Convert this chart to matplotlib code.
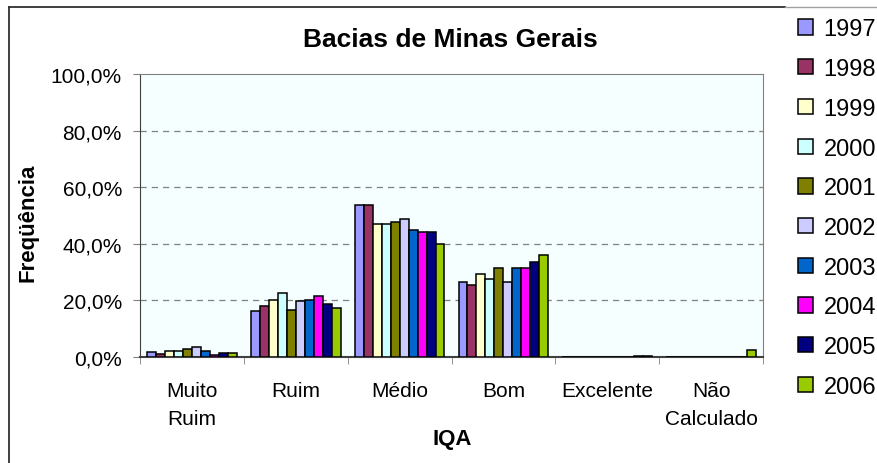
import matplotlib.pyplot as plt
import numpy as np
from matplotlib.lines import Line2D
from matplotlib.patches import Patch

plt.rcParams['font.family'] = ['Liberation Sans', 'DejaVu Sans']

categories = ["Muito\nRuim", "Ruim", "Médio", "Bom", "Excelente", "Não\nCalculado"]
years = ["1997", "1998", "1999", "2000", "2001", "2002", "2003", "2004", "2005", "2006"]
colors = ["#9999FF", "#993366", "#FFFFCC", "#CCFFFF", "#808000",
          "#CCCCFF", "#0066CC", "#FF00FF", "#000080", "#99CC00"]

# frequency (%) per year, one value per category
v1997 = [1.9, 16.1, 53.6, 26.6, 0.0, 0.0]
v1998 = [1.2, 18.1, 53.6, 25.3, 0.0, 0.0]
v1999 = [2.0, 20.2, 47.1, 29.5, 0.0, 0.0]
v2000 = [2.0, 22.5, 47.1, 27.4, 0.0, 0.0]
v2001 = [2.9, 16.7, 47.8, 31.6, 0.0, 0.0]
v2002 = [3.5, 19.7, 48.6, 26.6, 0.0, 0.0]
v2003 = [2.0, 20.2, 45.0, 31.5, 0.0, 0.0]
v2004 = [0.8, 21.7, 44.2, 31.5, 0.0, 0.0]
v2005 = [1.4, 18.8, 44.2, 33.7, 0.3, 0.0]
v2006 = [1.4, 17.4, 40.0, 35.9, 0.3, 2.6]
values = [v1997, v1998, v1999, v2000, v2001, v2002, v2003, v2004, v2005, v2006]

fig = plt.figure(figsize=(8.77, 4.64), dpi=100)
W, H = 877, 464
ax = fig.add_axes([140 / W, (H - 358) / H, 623 / W, 283 / H])
ax.set_facecolor("#F5FFFF")

n = len(years)
w = 0.865 / n
x = np.arange(len(categories))
for j in range(n):
    ax.bar(x + (j - (n - 1) / 2) * w, values[j], width=w, color=colors[j],
           edgecolor="black", linewidth=1.1, zorder=3)

ax.set_xlim(-0.5, len(categories) - 0.5)
ax.set_ylim(0, 100)
ax.set_yticks([0, 20, 40, 60, 80, 100])
ax.set_yticklabels(["0,0%", "20,0%", "40,0%", "60,0%", "80,0%", "100,0%"], fontsize=15)
for g in [20, 40, 60, 80]:
    ax.axhline(g, color="#808080", linestyle=(0, (5, 4)), linewidth=0.9, zorder=1)

ax.set_xticks(x)
ax.set_xticklabels(categories, fontsize=15, linespacing=1.62)
ax.set_xticks(np.arange(-0.5, len(categories), 1), minor=True)
ax.tick_params(axis="x", which="major", length=0, pad=17)
ax.tick_params(axis="x", which="minor", length=5, color="#808080", direction="out")
ax.tick_params(axis="y", length=5, color="#808080", pad=8)

for side in ["top", "right"]:
    ax.spines[side].set_color("#808080")
ax.spines["left"].set_color("#404040")
ax.spines["bottom"].set_color("#404040")
ax.spines["bottom"].set_linewidth(1.5)

fig.text(450 / W, 1 - 40 / H, "Bacias de Minas Gerais", fontsize=19,
         fontweight="bold", ha="center", va="center")
fig.text(28 / W, 1 - 223 / H, "Freqüência", fontsize=16, fontweight="bold",
         rotation=90, ha="center", va="center")
fig.text(452 / W, 1 - 440 / H, "IQA", fontsize=16, fontweight="bold",
         ha="center", va="center")

handles = [Patch(facecolor=c, edgecolor="black", linewidth=1.1) for c in colors]
leg = fig.legend(handles, years, loc="upper left", bbox_to_anchor=(789 / W, 1 - 10 / H),
                 frameon=False, fontsize=17, handlelength=0.62, handleheight=0.62,
                 handletextpad=0.45, labelspacing=0.75, borderaxespad=0)

# chart frame
fig.add_artist(Line2D([9 / W, 9 / W], [0, 1 - 8 / H], color="#303030", linewidth=1.3))
fig.add_artist(Line2D([9 / W, 785 / W], [1 - 8 / H, 1 - 8 / H], color="#303030", linewidth=1.3))
fig.add_artist(Line2D([785 / W, 1], [1 - 8 / H, 1 - 8 / H], color="#A0A0A0", linewidth=1.0))

fig.savefig("out.png", dpi=100)
